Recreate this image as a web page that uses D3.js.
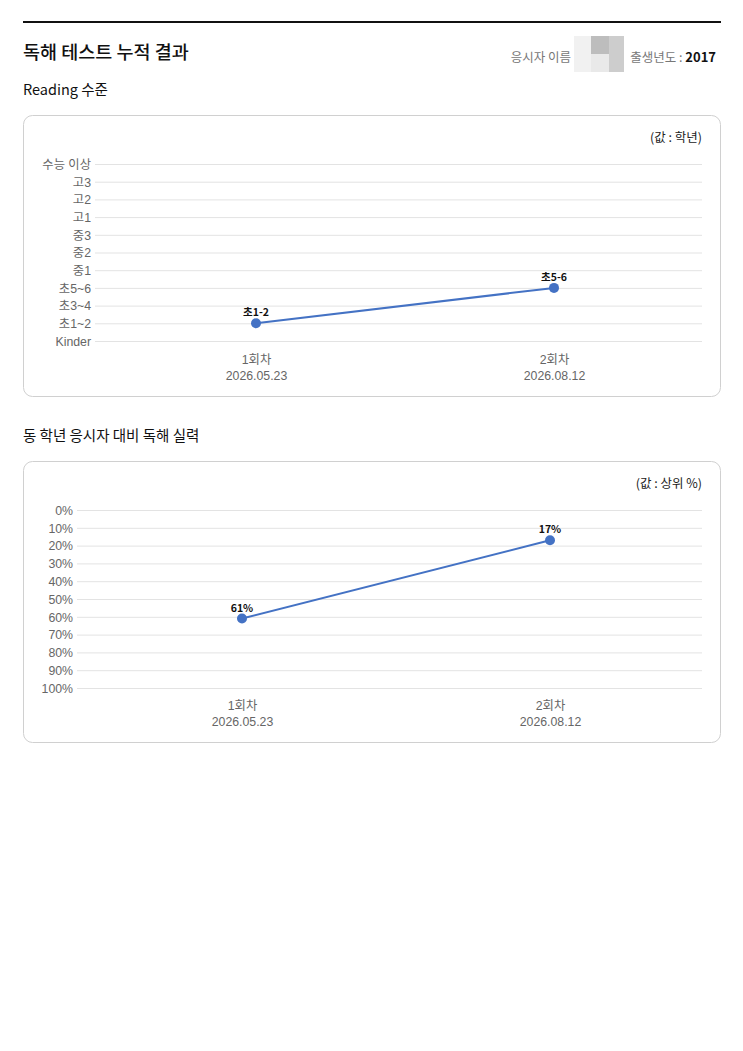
<!DOCTYPE html>
<html><head><meta charset="utf-8">
<script src="https://cdn.jsdelivr.net/npm/d3@7"></script>
<style>
html,body{margin:0;padding:0;background:#fff;}
svg{display:block;}
</style></head>
<body>
<svg id="c" width="743" height="1051"></svg>
<script>
// ---- data ----
const sessions = ["1회차", "2회차"];
const sessionDates = ["2026.05.23", "2026.08.12"];
const gradeLevels = ["Kinder", "초1~2", "초3~4", "초5~6", "중1", "중2", "중3", "고1", "고2", "고3", "수능 이상"];
const gradeValues = [1, 3];            // index into gradeLevels
const gradeLabels = ["초1-2", "초5-6"];
const percentTicks = [0, 10, 20, 30, 40, 50, 60, 70, 80, 90, 100];
const percentValues = [61, 17];        // 상위 %
const birthYear = "2017";

const svg = d3.select("#c");
const KR = "'Noto Sans CJK KR','Noto Sans',sans-serif";
const AX = "'Liberation Sans','Noto Sans CJK KR',Arial,sans-serif";

// header
svg.append("rect").attr("x",23).attr("y",21).attr("width",698).attr("height",2).attr("fill","#111");
svg.append("text").attr("x",23).attr("y",59).attr("font-family",KR).attr("font-size",18.5).attr("font-weight",500)
  .attr("fill","#111").text("독해 테스트 누적 결과");
svg.append("text").attr("x",571).attr("y",62).attr("text-anchor","end").attr("font-family",KR).attr("font-size",12.5)
  .attr("fill","#777").text("응시자 이름");
// blurred name block
const blur = svg.append("g");
blur.append("rect").attr("x",574).attr("y",36).attr("width",18).attr("height",36).attr("fill","#f1f1f1");
blur.append("rect").attr("x",591).attr("y",36).attr("width",18).attr("height",18).attr("fill","#bdbdbd");
blur.append("rect").attr("x",591).attr("y",54).attr("width",18).attr("height",18).attr("fill","#e9e9e9");
blur.append("rect").attr("x",609).attr("y",36).attr("width",15).attr("height",36).attr("fill","#cdcdcd");
const by = svg.append("text").attr("x",716).attr("y",62).attr("text-anchor","end").attr("font-family",KR).attr("font-size",12.5);
by.append("tspan").attr("fill","#777").text("출생년도 : ");
by.append("tspan").attr("fill","#111").attr("font-weight",700).attr("font-size",13).text(birthYear);

function sectionTitle(y, t){
  svg.append("text").attr("x",23).attr("y",y).attr("font-family",KR).attr("font-size",14.5)
    .attr("fill","#111").text(t);
}
sectionTitle(95, "Reading 수준");
sectionTitle(441, "동 학년 응시자 대비 독해 실력");

function chart(opt){
  const g = svg.append("g");
  g.append("rect").attr("x",23.5).attr("y",opt.boxTop+0.5).attr("width",697).attr("height",281)
    .attr("rx",9).attr("fill","#fff").attr("stroke","#d0d0d0");
  g.append("text").attr("x",702).attr("y",opt.boxTop+27).attr("text-anchor","end")
    .attr("font-family",KR).attr("font-size",12.5).attr("fill","#222").text(opt.unit);

  const x = d3.scalePoint().domain(sessions).range(opt.xRange).padding(0.5);
  const y = opt.y;

  // y axis with gridlines
  const yAxis = d3.axisLeft(y).tickValues(opt.ticks).tickFormat(opt.tickFormat)
    .tickSize(-(702 - opt.gridLeft)).tickPadding(4);
  const ya = g.append("g").attr("transform",`translate(${opt.gridLeft},0)`).call(yAxis);
  ya.select(".domain").remove();
  ya.selectAll(".tick line").attr("stroke","#e3e3e3").attr("stroke-width",1);
  ya.selectAll(".tick text").attr("font-family",AX).attr("font-size",12.3).attr("fill","#666").attr("dy","0.35em");

  // x axis labels
  const xAxis = d3.axisBottom(x).tickSize(0).tickPadding(0).tickFormat(()=> "");
  const xa = g.append("g").attr("transform",`translate(0,${opt.xLabelY})`).call(xAxis);
  xa.select(".domain").remove();
  xa.selectAll(".tick").each(function(d,i){
    const t = d3.select(this).select("text").attr("font-family",AX).attr("font-size",12.3).attr("fill","#666").attr("y",0).attr("dy",0);
    t.append("tspan").attr("x",0).attr("dy","0").text(d);
    t.append("tspan").attr("x",0).attr("dy","16").text(sessionDates[i]);
  });

  // line
  const pts = sessions.map((s,i)=>({s, v: opt.values[i], l: opt.labels[i]}));
  g.append("path").datum(pts).attr("fill","none").attr("stroke","#4472c4").attr("stroke-width",2)
    .attr("d", d3.line().x(d=>x(d.s)).y(d=>y(d.v)));
  g.selectAll("circle.p").data(pts).join("circle").attr("class","p")
    .attr("cx",d=>x(d.s)).attr("cy",d=>y(d.v)).attr("r",5).attr("fill","#4472c4");
  g.selectAll("text.lbl").data(pts).join("text").attr("class","lbl")
    .attr("x",d=>x(d.s)).attr("y",d=>y(d.v)-7).attr("text-anchor","middle")
    .attr("font-family",KR).attr("font-size",10.5).attr("font-weight",700).attr("fill","#111").text(d=>d.l);
}

chart({
  boxTop:115, unit:"(값 : 학년)",
  xRange:[107,703], gridLeft:95,
  y: d3.scaleLinear().domain([0,gradeLevels.length-1]).range([341,164]),
  ticks: d3.range(gradeLevels.length), tickFormat: i=>gradeLevels[i],
  values: gradeValues, labels: gradeLabels, xLabelY:364
});

chart({
  boxTop:461, unit:"(값 : 상위 %)",
  xRange:[88,704], gridLeft:77,
  y: d3.scaleLinear().domain([0,100]).range([510,688]),
  ticks: percentTicks, tickFormat: v=>v+"%",
  values: percentValues, labels: percentValues.map(v=>v+"%"), xLabelY:710
});
</script>
</body></html>
